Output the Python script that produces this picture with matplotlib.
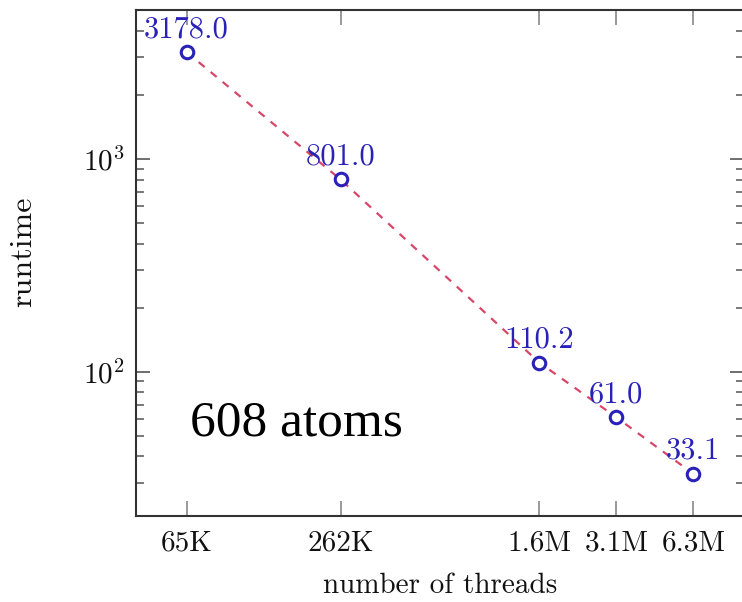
import numpy as np
import matplotlib
matplotlib.use("Agg")
import matplotlib.pyplot as plt
from matplotlib.ticker import FixedLocator, FixedFormatter, LogLocator, NullFormatter

plt.rcParams["font.family"] = ["cmr10", "DejaVu Serif"]
plt.rcParams["mathtext.fontset"] = "cm"
plt.rcParams["axes.formatter.use_mathtext"] = True

# Data: runtime versus number of threads
threads = [65536, 262144, 1572864, 3145728, 6291456]
runtime = [3178.0, 801.0, 110.2, 61.0, 33.1]
tick_labels = ["65K", "262K", "1.6M", "3.1M", "6.3M"]
value_labels = ["3178.0", "801.0", "110.2", "61.0", "33.1"]

fig = plt.figure(figsize=(7.42, 6.02), dpi=100)
ax = fig.add_axes([136 / 742, 1 - 516 / 602, 608 / 742, 506 / 602])
ax.set_xscale("log")
ax.set_yscale("log")

# Enlarge the limits by 10% of the data range on each side (in log space)
lx = np.log10(threads)
ly = np.log10(runtime)
ex = 0.1 * (lx.max() - lx.min())
ey = 0.1 * (ly.max() - ly.min())
ax.set_xlim(10 ** (lx.min() - ex), 10 ** (lx.max() + ex))
ax.set_ylim(10 ** (ly.min() - ey), 10 ** (ly.max() + ey))

line_color = "#d8466a"
mark_color = "#2a22b8"

ax.plot(threads, runtime, linestyle=(0, (3.5, 3.5)), color=line_color, lw=1.6, zorder=2)
ax.plot(threads, runtime, linestyle="none", marker="o", markersize=9,
        markerfacecolor="white", markeredgecolor=mark_color, markeredgewidth=2.2, zorder=3)

for x, y, s in zip(threads, runtime, value_labels):
    ax.annotate(s, (x, y), xytext=(0, 6.5), textcoords="offset points",
                ha="center", va="bottom", color=mark_color,
                fontsize=22, zorder=4)

ax.text(54 / 608, (516 - 436) / 506, "608 atoms", transform=ax.transAxes, fontsize=37,
        family=["Liberation Serif", "Times New Roman", "DejaVu Serif"],
        color="black", ha="left", va="baseline")

ax.xaxis.set_major_locator(FixedLocator(threads))
ax.xaxis.set_major_formatter(FixedFormatter(tick_labels))
ax.xaxis.set_minor_locator(FixedLocator([]))
ax.yaxis.set_major_locator(LogLocator(base=10))
ax.yaxis.set_minor_locator(LogLocator(base=10, subs=np.arange(2, 10)))
ax.yaxis.set_minor_formatter(NullFormatter())

ax.tick_params(axis="x", which="major", direction="in", length=11, width=1.2,
               color="#888888", top=True, pad=10, labelsize=21, labelcolor="#111111")
ax.tick_params(axis="y", which="major", direction="in", length=10, width=1.2,
               color="#555555", right=True, pad=8, labelsize=21, labelcolor="#111111")
ax.tick_params(axis="y", which="minor", direction="in", length=6, width=1.1,
               color="#555555", right=True)

for sp in ax.spines.values():
    sp.set_linewidth(1.5)
    sp.set_color("#333333")

ax.set_xlabel("number of threads", fontsize=21, labelpad=12, color="#111111")
ax.set_ylabel("runtime", fontsize=23, color="#111111")
ax.yaxis.set_label_coords((37 - 136) / 608, (516 - 252) / 506)

fig.savefig("out.png", dpi=100)
